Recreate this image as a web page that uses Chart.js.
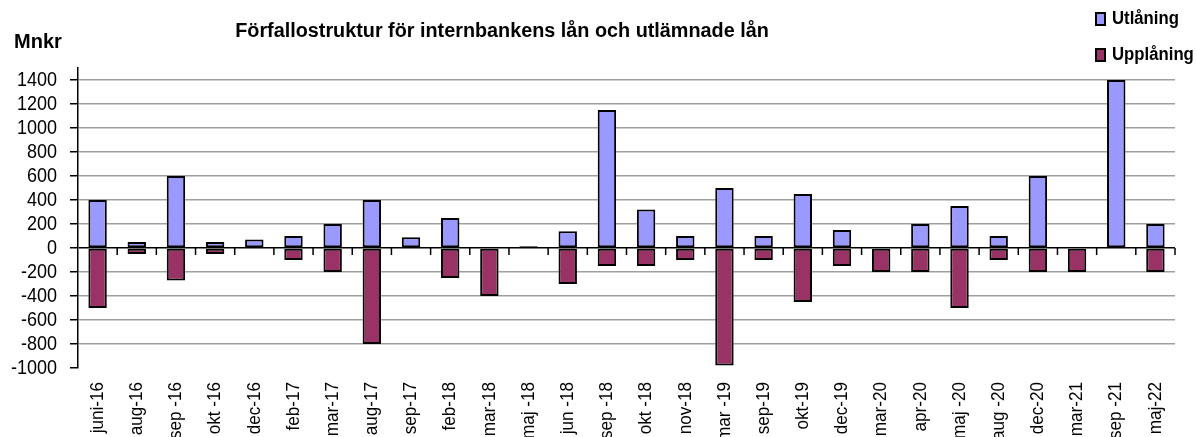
<!DOCTYPE html>
<html>
<head>
<meta charset="utf-8">
<script src="https://cdn.jsdelivr.net/npm/chart.js@4.4.1/dist/chart.umd.min.js"></script>
<style>
  html, body { margin: 0; padding: 0; background: #fff; }
  #wrap { position: relative; width: 1197px; height: 437px; }
</style>
</head>
<body>
<div id="wrap"><canvas id="c" width="1197" height="437"></canvas></div>
<script>
const categories = ["juni-16","aug-16","sep -16","okt -16","dec-16","feb-17","mar-17","aug-17","sep-17","feb-18","mar-18","maj -18","jun -18","sep -18","okt -18","nov-18","mar -19","sep-19","okt-19","dec-19","mar-20","apr-20","maj -20","aug -20","dec-20","mar-21","sep -21","maj-22"];
const utlaning  = [400, 50, 600, 50, 70, 100, 200, 400, 90, 250, 0, 15, 140, 1150, 320, 100, 500, 100, 450, 150, 0, 200, 350, 100, 600, 0, 1400, 200];
const upplaning = [-500, -50, -270, -50, 0, -100, -200, -800, 0, -250, -400, 0, -300, -150, -150, -100, -980, -100, -450, -150, -200, -200, -500, -100, -200, -200, 0, -200];
const yTickValues = [-1000, -800, -600, -400, -200, 0, 200, 400, 600, 800, 1000, 1200, 1400];
const seriesNames = ["Utlåning", "Upplåning"];
const seriesColors = ["#9999FF", "#993366"];
const titleText = "Förfallostruktur för internbankens lån och utlämnade lån";
const unitText = "Mnkr";

const FONT = "'Liberation Sans', Arial, sans-serif";

const canvas = document.getElementById('c');
const ctx2d = canvas.getContext('2d');
// narrow-font emulation: horizontally condense text drawn on the canvas
let textSqueeze = 0.9;
const origFillText = ctx2d.fillText.bind(ctx2d);
ctx2d.fillText = function (text, x, y, maxWidth) {
  const w = this.measureText(String(text)).width * textSqueeze;
  const mw = (maxWidth !== undefined && maxWidth !== null) ? Math.min(maxWidth, w) : w;
  origFillText(text, x, y, mw > 0 ? mw : undefined);
};

const decorPlugin = {
  id: 'decor',
  beforeDraw() { textSqueeze = 0.9; },
  afterDatasetsDraw(chart) {
    const ctx = chart.ctx;
    const x = chart.scales.x, y = chart.scales.y;
    const y0 = y.getPixelForValue(0);
    const step = x.getPixelForTick(1) - x.getPixelForTick(0);
    ctx.save();
    ctx.strokeStyle = '#000';
    ctx.lineWidth = 1.5;
    for (let i = 1; i <= categories.length; i++) {
      const px = x.getPixelForTick(i - 1) + step / 2;
      ctx.beginPath();
      ctx.moveTo(px, y0);
      ctx.lineTo(px, y0 + 7);
      ctx.stroke();
    }
    ctx.restore();
  },
  afterDraw(chart) {
    const ctx = chart.ctx;
    ctx.save();
    ctx.fillStyle = '#000';
    ctx.textBaseline = 'middle';
    textSqueeze = 0.99;
    ctx.font = "bold 20px " + FONT;
    ctx.textAlign = 'center';
    ctx.fillText(titleText, 502, 31);
    textSqueeze = 1;
    ctx.textAlign = 'left';
    ctx.fillText(unitText, 14, 42);
    // legend
    textSqueeze = 0.93;
    ctx.font = "bold 18px " + FONT;
    const rows = [19, 55];
    chart.data.datasets.forEach((ds, i) => {
      const ry = rows[i];
      ctx.fillStyle = ds.backgroundColor;
      ctx.fillRect(1096, ry - 6, 9, 12);
      ctx.strokeStyle = '#000';
      ctx.lineWidth = 2;
      ctx.strokeRect(1096, ry - 6, 9, 12);
      ctx.fillStyle = '#000';
      ctx.fillText(ds.label, 1112, ry);
    });
    textSqueeze = 0.9;
    ctx.restore();
  }
};

new Chart(canvas, {
  type: 'bar',
  data: {
    labels: categories,
    datasets: [
      { label: seriesNames[0], data: utlaning, backgroundColor: seriesColors[0], borderColor: '#000', borderWidth: 2, borderSkipped: false },
      { label: seriesNames[1], data: upplaning, backgroundColor: seriesColors[1], borderColor: '#000', borderWidth: 2, borderSkipped: false }
    ]
  },
  options: {
    responsive: false,
    animation: false,
    devicePixelRatio: 1,
    layout: { padding: { top: 68, right: 22, left: 0, bottom: 0 } },
    datasets: { bar: { categoryPercentage: 1.0, barPercentage: 0.47 } },
    plugins: { legend: { display: false }, title: { display: false }, tooltip: { enabled: false } },
    scales: {
      x: {
        stacked: true,
        grid: { display: false, drawTicks: false },
        border: { display: false },
        ticks: {
          autoSkip: false, minRotation: 90, maxRotation: 90, padding: 14,
          color: '#000', font: { family: FONT, size: 19 }
        },
        afterFit(scale) { scale.height = 69; }
      },
      y: {
        stacked: true,
        min: -1000, max: 1500,
        afterBuildTicks(scale) { scale.ticks = yTickValues.map(v => ({ value: v })); },
        grid: {
          color: (c) => (c.tick && c.tick.value === 0) ? '#000' : (c.tick && c.tick.value === -1000 ? 'rgba(0,0,0,0)' : '#a0a0a0'),
          lineWidth: 1.5,
          tickColor: '#000', tickLength: 8
        },
        border: { display: true, color: '#000', width: 1.5 },
        ticks: {
          autoSkip: false, color: '#000', padding: 13, font: { family: FONT, size: 20 },
          callback: (v) => String(v)
        },
        afterFit(scale) { scale.width = 78; }
      }
    }
  },
  plugins: [decorPlugin]
});
</script>
</body>
</html>
